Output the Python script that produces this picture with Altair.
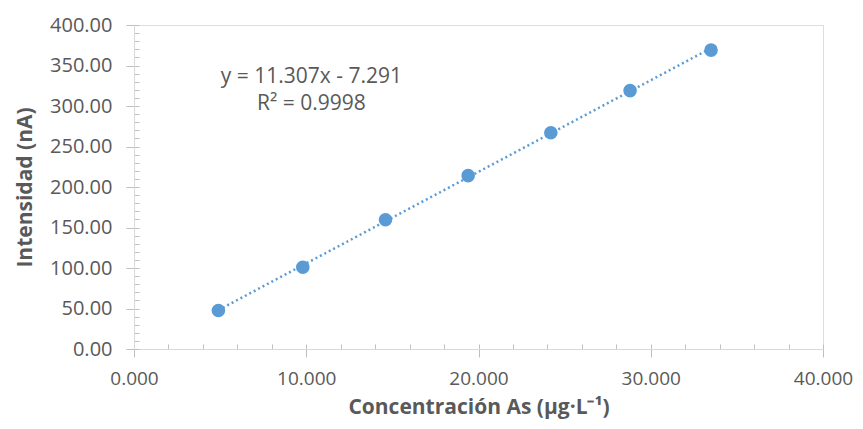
import altair as alt
import pandas as pd

conc = [4.9, 9.8, 14.6, 19.4, 24.2, 28.8, 33.5]
intens = [47.5, 101.0, 159.5, 214.0, 267.0, 319.0, 369.0]
x_major = [0, 10, 20, 30, 40]
x_minor = list(range(0, 41, 2))
y_major = list(range(0, 401, 50))
y_minor = list(range(0, 401, 10))
eq_lines = ["y = 11.307x - 7.291", "R² = 0.9998"]
eq_x = [10.3, 10.3]
eq_y = [336, 302]

df = pd.DataFrame({"x": conc, "y": intens})
ann = pd.DataFrame({"t": eq_lines, "x": eq_x, "y": eq_y})

FONT = "Open Sans"
GREY = "#595959"
BLUE = "#5B9BD5"

xs = alt.Scale(domain=[0, 40], nice=False, zero=False)
ys = alt.Scale(domain=[0, 400], nice=False)

main_x = alt.X("x:Q", scale=xs, axis=alt.Axis(
    orient="bottom", values=x_major, format=".3f", title="Concentración As (μg·L⁻¹)",
    grid=False, domainColor="#D9D9D9", tickColor="#BFBFBF", tickSize=8,
    labelFontSize=19, labelColor=GREY, labelFont=FONT, labelPadding=12, labelFlush=False,
    titleFont=FONT, titleFontSize=21, titleFontWeight="bold", titleColor=GREY,
    titlePadding=8))
main_y = alt.Y("y:Q", scale=ys, axis=alt.Axis(
    orient="left", values=y_major, format=".2f", title="Intensidad (nA)",
    grid=False, domainColor="#D9D9D9", tickColor="#BFBFBF", tickSize=8,
    labelFontSize=20, labelColor=GREY, labelFont=FONT, labelPadding=14, labelFlush=False,
    titleFont=FONT, titleFontSize=21, titleFontWeight="bold", titleColor=GREY,
    titlePadding=14))

points = alt.Chart(df).mark_circle(size=185, color=BLUE, opacity=1).encode(x=main_x, y=main_y)

trend = alt.Chart(df).transform_regression("x", "y").mark_line(
    color=BLUE, strokeDash=[2, 3], strokeWidth=2.5
).encode(x=alt.X("x:Q", scale=xs, axis=None), y=alt.Y("y:Q", scale=ys, axis=None))

minor = alt.Chart(df).mark_circle(opacity=0).encode(
    x=alt.X("x:Q", scale=xs, axis=alt.Axis(
        orient="bottom", values=x_minor, labels=False, domain=False, grid=False,
        tickSize=5, offset=-5, title=None, tickColor="#BFBFBF")),
    y=alt.Y("y:Q", scale=ys, axis=alt.Axis(
        orient="left", values=y_minor, labels=False, domain=False, grid=False,
        tickSize=5, offset=-5, title=None, tickColor="#BFBFBF")),
)

text = alt.Chart(ann).mark_text(font=FONT, fontSize=21, color=GREY, align="center").encode(
    x=alt.X("x:Q", scale=xs, axis=None), y=alt.Y("y:Q", scale=ys, axis=None), text="t:N")

chart = alt.layer(minor, trend, points, text).resolve_axis(
    x="independent", y="independent"
).properties(
    width=689, height=324,
    autosize=alt.AutoSizeParams(type="none"),
    padding={"left": 126, "top": 17, "right": 32, "bottom": 72},
).configure_view(stroke=None).configure(background="white")

chart.save("out.html", embed_options={"renderer": "svg", "actions": False})
